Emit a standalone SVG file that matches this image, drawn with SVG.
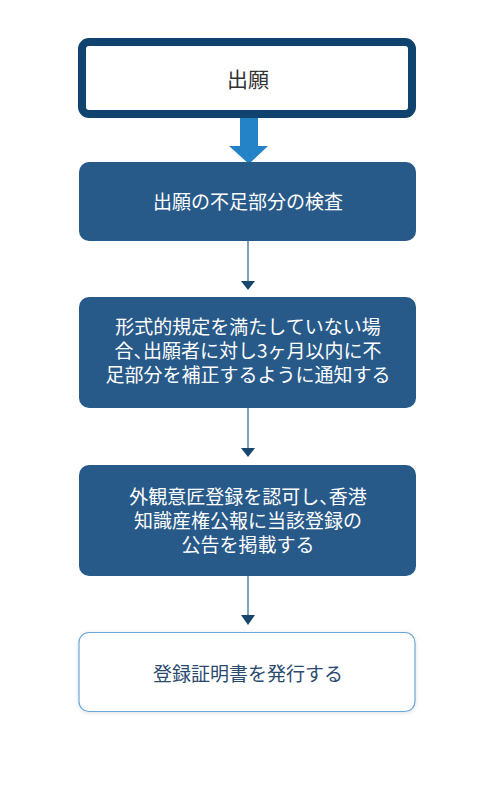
<svg xmlns="http://www.w3.org/2000/svg" width="492" height="793" viewBox="0 0 492 793">
<defs>
<style>
.t{font-family:"Noto Sans CJK JP","Noto Sans",sans-serif;text-anchor:middle;}
.w{fill:#ffffff;font-size:19px;}
.h{font-feature-settings:"halt";}
.line{stroke:#7f9fc0;stroke-width:2;fill:none;}
.head{fill:#17466f;}
.dark{fill:#285a89;}
</style>
<filter id="sh" x="-10%" y="-20%" width="120%" height="140%">
<feDropShadow dx="0" dy="1" stdDeviation="2" flood-color="#000" flood-opacity="0.12"/>
</filter>
</defs>
<rect width="492" height="793" fill="#ffffff"/>
<g id="connectors">
<path d="M240 118 H258 V146 H268 L249 164 L229 146 H240 Z" fill="#2383c6"/>
<line class="line" x1="248" y1="241" x2="248" y2="281"/>
<path class="head" d="M241 281 H255 L248 290 Z"/>
<line class="line" x1="248" y1="408" x2="248" y2="449"/>
<path class="head" d="M241 448 H255 L248 457 Z"/>
<line class="line" x1="248" y1="576" x2="248" y2="616"/>
<path class="head" d="M241 615 H255 L248 625 Z"/>
</g>
<g id="node1">
<rect x="82" y="42" width="330" height="72" rx="7" fill="#ffffff" stroke="#11436f" stroke-width="8"/>
<text class="t" x="248" y="87" font-size="21" fill="#333333">出願</text>
</g>
<g id="node2">
<rect class="dark" x="79" y="162" width="337" height="79" rx="10"/>
<text class="t w" x="248" y="209">出願の不足部分の検査</text>
</g>
<g id="node3">
<rect class="dark" x="79" y="297" width="337" height="111" rx="10"/>
<text class="t w" x="248" y="334">形式的規定を満たしていない場</text>
<text class="t w h" x="248" y="358">合、出願者に対し3ヶ月以内に不</text>
<text class="t w" x="248" y="382">足部分を補正するように通知する</text>
</g>
<g id="node4">
<rect class="dark" x="79" y="465" width="337" height="111" rx="10"/>
<text class="t w h" x="248" y="504">外観意匠登録を認可し、香港</text>
<text class="t w" x="248" y="528">知識産権公報に当該登録の</text>
<text class="t w" x="248" y="552">公告を掲載する</text>
</g>
<g id="node5">
<rect x="79" y="632.5" width="336" height="79" rx="10" fill="#ffffff" stroke="#6aa6da" stroke-width="1.2" filter="url(#sh)"/>
<text class="t" x="248" y="681" font-size="19" fill="#2a4a6e">登録証明書を発行する</text>
</g>
</svg>
